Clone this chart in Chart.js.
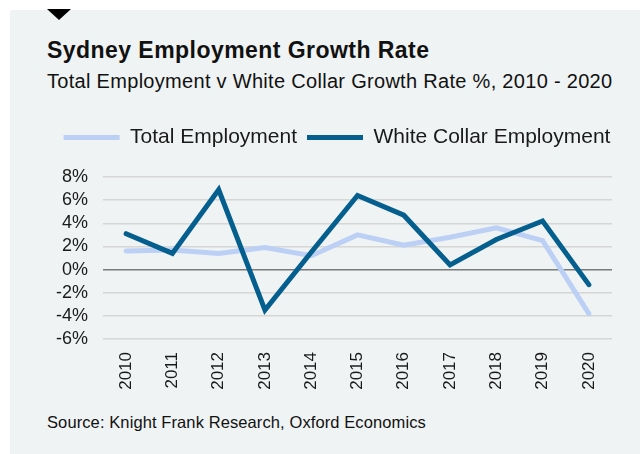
<!DOCTYPE html>
<html>
<head>
<meta charset="utf-8">
<script src="https://cdn.jsdelivr.net/npm/chart.js@4.4.1/dist/chart.umd.min.js"></script>
<style>
  html, body { margin: 0; padding: 0; background: #ffffff; }
  body { width: 640px; height: 454px; position: relative; overflow: hidden;
         font-family: "Liberation Sans", Arial, sans-serif; color: #111; }
  #panel { position: absolute; left: 10px; top: 10px; right: 0; bottom: 0; background: #eff3f3; }
  #marker { position: absolute; left: 47px; top: 9px; width: 0; height: 0;
            border-left: 12px solid transparent; border-right: 12px solid transparent;
            border-top: 11px solid #000; }
  .txt { position: absolute; left: 47px; line-height: 1; white-space: nowrap; }
  #title { top: 39px; font-size: 23px; font-weight: bold; letter-spacing: 0.45px; }
  #subtitle { top: 71px; font-size: 20px; letter-spacing: 0.3px; }
  #source { top: 414px; font-size: 16.5px; letter-spacing: 0.1px; }
  #chart { position: absolute; left: 0; top: 0; }
</style>
</head>
<body>
<div id="panel"></div>
<div id="marker"></div>
<div class="txt" id="title">Sydney Employment Growth Rate</div>
<div class="txt" id="subtitle">Total Employment v White Collar Growth Rate %, 2010 - 2020</div>
<div class="txt" id="source">Source: Knight Frank Research, Oxford Economics</div>
<canvas id="chart" width="640" height="454"></canvas>
<script>
// Annual growth rates, Sydney
const years = ['2010', '2011', '2012', '2013', '2014', '2015', '2016', '2017', '2018', '2019', '2020'];
const totalEmployment = [1.6, 1.7, 1.4, 1.9, 1.2, 3.0, 2.1, 2.8, 3.6, 2.5, -3.8];
const whiteCollarEmployment = [3.1, 1.4, 6.9, -3.5, 1.5, 6.4, 4.7, 0.4, 2.6, 4.2, -1.3];
const yTicks = { min: -6, max: 8, step: 2 };

const FONT = '"Liberation Sans", Arial, sans-serif';
const PAD_TOP = 117;
const PLOT_TOP = 177;
const LEGEND_LEFT = 44;
const LEGEND_RIGHT = 630;

// Legend block: fixed height so the plot starts at a set line,
// and horizontal bounds that centre it over the plot area
const legendLayout = {
  id: 'legendLayout',
  afterInit(chart) {
    const legend = chart.legend;
    if (!legend) return;
    const baseFit = legend.fit;
    legend.fit = function () {
      baseFit.call(this);
      this.height = PLOT_TOP - PAD_TOP;
    };
  },
  afterLayout(chart) {
    if (!chart.legend) return;
    chart.legend.left = LEGEND_LEFT;
    chart.legend.right = LEGEND_RIGHT;
  }
};

new Chart(document.getElementById('chart'), {
  type: 'line',
  data: {
    labels: years,
    datasets: [
      {
        label: 'Total Employment',
        data: totalEmployment,
        borderColor: '#bcd0f5',
        backgroundColor: '#bcd0f5',
        borderWidth: 5,
        borderCapStyle: 'round',
        pointRadius: 0,
        pointStyle: 'line',
        tension: 0,
        order: 1
      },
      {
        label: 'White Collar Employment',
        data: whiteCollarEmployment,
        borderColor: '#045f8e',
        backgroundColor: '#045f8e',
        borderWidth: 5,
        borderCapStyle: 'round',
        pointRadius: 0,
        pointStyle: 'line',
        tension: 0,
        order: 0
      }
    ]
  },
  options: {
    responsive: false,
    animation: false,
    devicePixelRatio: 1,
    layout: { padding: { top: PAD_TOP, left: 30, right: 28, bottom: 55 } },
    plugins: {
      legend: {
        position: 'top',
        labels: {
          usePointStyle: true,
          pointStyleWidth: 56,
          padding: 10,
          color: '#1a1a1a',
          font: { family: FONT, size: 21 },
          sort: (a, b) => a.datasetIndex - b.datasetIndex
        }
      },
      tooltip: { enabled: false }
    },
    scales: {
      x: {
        type: 'category',
        offset: true,
        grid: { display: false, drawTicks: false },
        border: { display: false },
        ticks: {
          autoSkip: false,
          maxRotation: 90,
          minRotation: 90,
          padding: 13,
          color: '#1a1a1a',
          font: { family: FONT, size: 17 }
        },
        afterFit(s) { s.height = 60; }
      },
      y: {
        min: yTicks.min,
        max: yTicks.max,
        grid: {
          drawTicks: false,
          lineWidth: 1.5,
          color: (ctx) => (ctx.tick && ctx.tick.value === 0 ? '#7b7b7b' : '#d6d6d6')
        },
        border: { display: false },
        ticks: {
          autoSkip: false,
          stepSize: yTicks.step,
          padding: 15,
          color: '#1a1a1a',
          font: { family: FONT, size: 18 },
          callback: (v) => v + '%'
        },
        afterFit(s) { s.width = 73; }
      }
    }
  },
  plugins: [legendLayout]
});
</script>
</body>
</html>
